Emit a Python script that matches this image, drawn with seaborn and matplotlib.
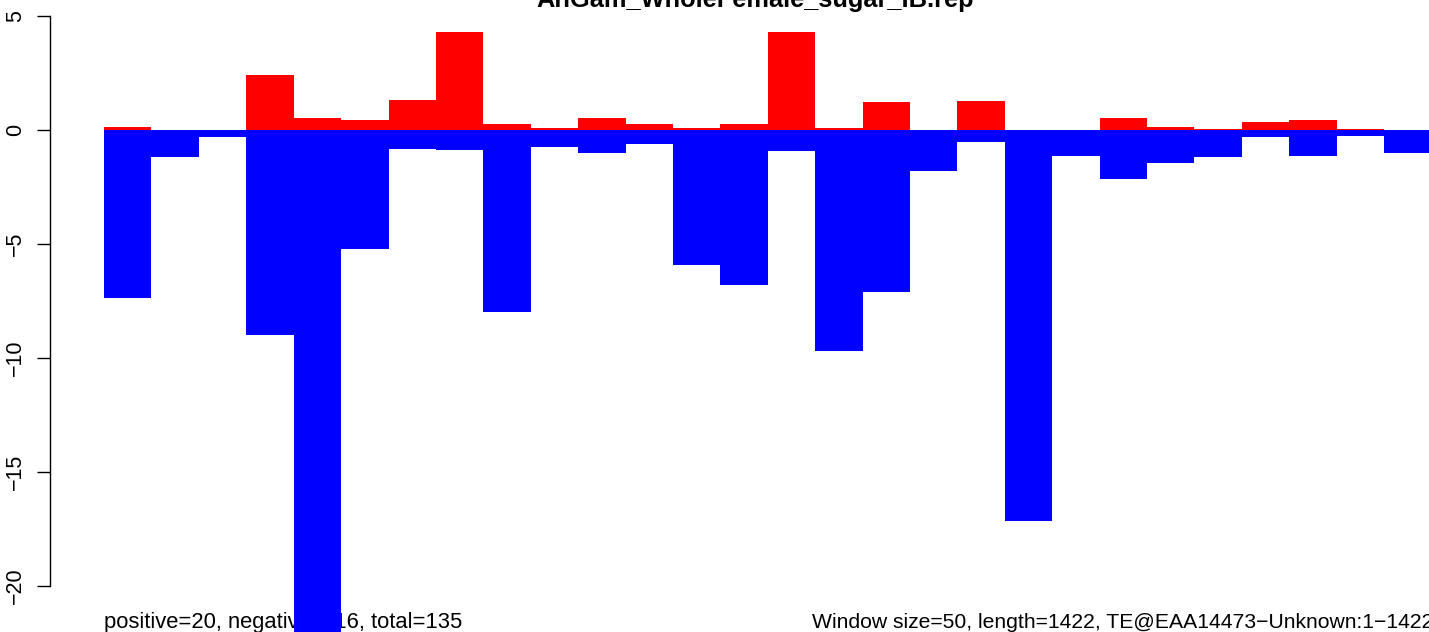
import matplotlib
matplotlib.use("Agg")
import matplotlib.pyplot as plt
import seaborn as sns
import pandas as pd

# window index and per-window scores
windows = list(range(1, 29))
positive = [0.13, 0, 0, 2.41, 0.53, 0.44, 1.32, 4.28, 0.26, 0.09, 0.53, 0.26, 0.09, 0.26,
            4.3, 0.09, 1.23, 0, 1.27, 0, 0, 0.53, 0.13, 0.04, 0.35, 0.44, 0.04, 0.02]
negative = [-7.37, -1.17, -0.29, -9.0, -23.5, -5.2, -0.83, -0.88, -7.98, -0.73, -1.0, -0.61,
            -5.92, -6.8, -0.92, -9.69, -7.1, -1.8, -0.53, -17.15, -1.14, -2.15, -1.45, -1.18,
            -0.31, -1.14, -0.26, -1.0]
yticks = [-20, -15, -10, -5, 0, 5]

title = "AnGam_WholeFemale_sugar_IB.rep"
left_note = "positive=20, negative=116, total=135"
right_note = "Window size=50, length=1422, TE@EAA14473\u2212Unknown:1\u22121422"

sns.set_theme(style="white")
plt.rcParams["font.family"] = ["Liberation Sans", "DejaVu Sans"]
plt.rcParams["axes.unicode_minus"] = True
plt.rcParams["text.color"] = "black"
plt.rcParams["ytick.color"] = "black"

W, H = 1429, 632
fig = plt.figure(figsize=(W / 100, H / 100), dpi=100)
ax = fig.add_axes([50 / W, 0, 1 - 50 / W, 1])

df = pd.DataFrame({"window": windows, "positive": positive, "negative": negative})
sns.barplot(data=df, x="window", y="positive", color="#FF0000", saturation=1,
            width=1, linewidth=0, ax=ax)
sns.barplot(data=df, x="window", y="negative", color="#0000FF", saturation=1,
            width=1, linewidth=0, ax=ax)

# pixel mapping: bars start at x=104, ~47.3 px each; zero at y=130, 22.8 px per unit
px_per_bar = (1429 - 104) / 28
ax.set_xlim(-0.5 - (104 - 50) / px_per_bar, 27.45)
ax.set_ylim(-(H - 130) / 22.8, 130 / 22.8)

for s in ["top", "right", "bottom"]:
    ax.spines[s].set_visible(False)
ax.spines["left"].set_bounds(-20, 5)
ax.spines["left"].set_linewidth(1.0)
ax.spines["left"].set_color("black")
ax.set_xticks([])
ax.set_xlabel("")
ax.set_ylabel("")
ax.set_yticks(yticks)
ax.set_yticklabels([f"{t}".replace("-", "\u2212") for t in yticks], rotation=90,
                   va="center", fontsize=15.5, color="black")
ax.tick_params(axis="y", left=True, length=9.5, width=1.0, pad=8, color="black")

fig.text(755 / W, 1 - 6.5 / H, title, ha="center", va="baseline",
         fontsize=18.3, fontweight="bold", color="black")
ax.text(104 / W, 4 / H, left_note, transform=fig.transFigure, ha="left",
        va="baseline", fontsize=15.8, zorder=0.5, clip_on=False, color="black")
ax.text(1433 / W, 4 / H, right_note, transform=fig.transFigure, ha="right",
        va="baseline", fontsize=15.2, zorder=0.5, clip_on=False, color="black")

fig.savefig("out.png", dpi=100)
